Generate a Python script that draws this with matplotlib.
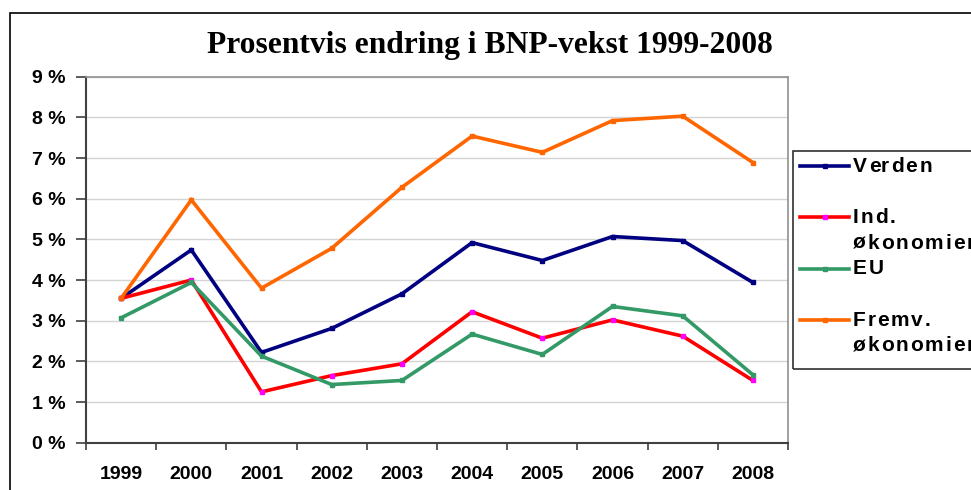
import numpy as np
import matplotlib.pyplot as plt
from matplotlib.lines import Line2D
from matplotlib.patches import Rectangle

# Årlig BNP-vekst i prosent
aar = ['1999', '2000', '2001', '2002', '2003', '2004', '2005', '2006', '2007', '2008']
verden = [3.55, 4.74, 2.22, 2.81, 3.66, 4.92, 4.48, 5.07, 4.97, 3.94]
ind_okonomier = [3.55, 4.00, 1.25, 1.65, 1.94, 3.22, 2.57, 3.02, 2.62, 1.53]
eu = [3.07, 3.94, 2.13, 1.43, 1.53, 2.67, 2.17, 3.35, 3.12, 1.67]
fremv_okonomier = [3.55, 5.97, 3.80, 4.78, 6.28, 7.54, 7.14, 7.92, 8.03, 6.89]

navn = ['Verden', 'Ind.\nøkonomier', 'EU', 'Fremv.\nøkonomier']
serier = [verden, ind_okonomier, eu, fremv_okonomier]
farger = ['#000080', '#FF0000', '#339966', '#FF6600']
markorfarger = ['#000080', '#FF00FF', '#339966', '#FF6600']

W, H = 971, 490
fig = plt.figure(figsize=(W / 100, H / 100), dpi=100)
ax = fig.add_axes([86 / W, 1 - 442.7 / H, (788 - 86) / W, (442.7 - 76.7) / H])

x = np.arange(len(aar))
for verdier, farge, mfarge in zip(serier, farger, markorfarger):
    ax.plot(x, verdier, color=farge, lw=2.6, marker='s', ms=2.5,
            mfc=mfarge, mec=mfarge, zorder=3, solid_joinstyle='miter')

ax.set_xlim(-0.5, len(aar) - 0.5)
ax.set_ylim(0, 9)
ax.set_yticks(range(10))
ax.set_yticklabels([f'{v} %' for v in range(10)], fontsize=14, fontweight='bold',
                   family='Liberation Sans')
ax.set_xticks(np.arange(-0.5, len(aar)), labels=[])
ax.set_xticks(x, labels=aar, minor=True)
for lbl in ax.get_xticklabels(minor=True):
    lbl.set_fontsize(14)
    lbl.set_fontweight('bold')
    lbl.set_family('Liberation Sans')
ax.tick_params(axis='x', which='minor', length=0, pad=17)
ax.tick_params(axis='x', which='major', length=5, width=1.2, color='#404040')
ax.tick_params(axis='y', length=7, width=1.2, color='#404040', pad=8)

ax.grid(axis='y', color='#d4d4d4', lw=1)
ax.set_axisbelow(True)
for side in ['left', 'bottom']:
    ax.spines[side].set_color('#404040')
    ax.spines[side].set_linewidth(1.5)
for side in ['top', 'right']:
    ax.spines[side].set_color('#909090')
    ax.spines[side].set_linewidth(1.2)

fig.text(490 / W, 1 - 46 / H, 'Prosentvis endring i BNP-vekst 1999-2008',
         ha='center', va='center', fontsize=22.7, fontweight='bold',
         family='Liberation Serif')

# ytre ramme rundt hele diagrammet
fig.patches.append(Rectangle((9.5 / W, -0.1), 1.2, 1 - 13 / H + 0.1,
                             transform=fig.transFigure, fill=False,
                             ec='black', lw=1.2))

renderer = fig.canvas.get_renderer()
tekststil = dict(fontsize=15, fontweight='bold', family='Liberation Sans')


def sperret_tekst(px, py, tekst, sperring=1.8):
    # tekst med ekstra avstand mellom bokstavene
    for k, tegn in enumerate(tekst):
        bredde = 0.0
        if k:
            t = fig.text(0, 0, tekst[:k], **tekststil)
            bredde = t.get_window_extent(renderer).width
            t.remove()
        fig.text((px + bredde + k * sperring) / W, 1 - py / H, tegn,
                 ha='left', va='center', **tekststil)


# forklaring
fig.patches.append(Rectangle((793 / W, 1 - 369 / H), 0.3, (369 - 151) / H,
                             transform=fig.transFigure, fill=False,
                             ec='#303030', lw=1.2))
linje = 25.7
for i, (tekst, farge, mfarge) in enumerate(zip(navn, farger, markorfarger)):
    y0 = 166 + 2 * i * linje
    fig.add_artist(Line2D([800 / W, 849 / W], [1 - y0 / H] * 2, color=farge, lw=2.6,
                          transform=fig.transFigure))
    fig.add_artist(Line2D([824.5 / W], [1 - y0 / H], color=farge, marker='s', ms=2.5,
                          mfc=mfarge, mec=mfarge, transform=fig.transFigure))
    for j, del_tekst in enumerate(tekst.split('\n')):
        sperret_tekst(853, y0 + j * linje, del_tekst)

fig.savefig('out.png', dpi=100)
